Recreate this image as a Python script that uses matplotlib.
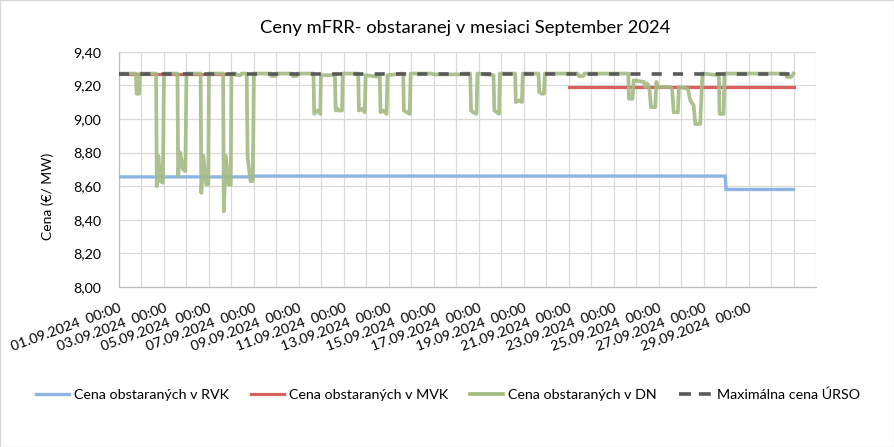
import numpy as np
import matplotlib
matplotlib.use("Agg")
import matplotlib.pyplot as plt
from matplotlib.lines import Line2D
from matplotlib.patches import Rectangle

plt.rcParams['font.family'] = ['Lato', 'DejaVu Sans']

# ---------------- data ----------------
title = "Ceny mFRR- obstaranej v mesiaci September 2024"
y_label = "Cena (€/ MW)"
series_names = ["Cena obstaraných v RVK", "Cena obstaraných v MVK",
                "Cena obstaraných v DN", "Maximálna cena ÚRSO"]
tick_days = list(range(1, 30, 2))
tick_labels = [f"{d:02d}.09.2024  00:00" for d in tick_days]

# time in days since 01.09.2024 00:00
rvk_t = [0, 5.97, 6.0, 26.96, 27.0, 30]
rvk_v = [8.655, 8.655, 8.66, 8.66, 8.58, 8.58]

mvk_t = [0, 5.1, 5.11, 19.99, 20.0, 30]
mvk_v = [9.27, 9.27, np.nan, np.nan, 9.19, 9.19]

max_t = [0, 30]
max_v = [9.27, 9.27]

dn_t = [0.00, 0.75, 0.78, 0.90, 0.93,
        1.65, 1.68, 1.75, 1.85, 1.95, 2.00,
        2.60, 2.63, 2.72, 2.85, 2.95, 3.00,
        3.63, 3.66, 3.75, 3.88, 3.97, 4.00,
        4.63, 4.66, 4.75, 4.88, 4.97, 5.00,
        5.20, 5.25, 5.40, 5.45,
        5.68, 5.72, 5.85, 5.95, 6.00,
        6.75, 6.78, 6.95, 6.98,
        7.70, 7.73, 7.90, 7.93,
        8.65, 8.68, 8.75, 8.85, 8.95, 8.98,
        9.60, 9.64, 9.72, 9.78, 9.92, 9.95,
        10.64, 10.67, 10.80, 10.93, 10.97,
        11.60, 11.63, 11.75, 11.90, 11.94,
        12.64, 12.67, 12.80, 12.93, 12.97,
        13.90, 14.00, 15.20, 15.30,
        15.62, 15.66, 15.75, 15.90, 15.94,
        16.66, 16.69, 16.80, 16.90, 16.94,
        17.62, 17.65, 17.80, 17.92, 17.96,
        18.66, 18.69, 18.80, 18.90, 18.94,
        20.40, 20.45, 20.65, 20.70,
        22.65, 22.68, 22.84, 22.89, 23.35, 23.41, 23.50, 23.60,
        23.66, 23.85, 23.90, 23.95, 24.50, 24.60,
        24.67, 24.86, 24.90, 25.30, 25.41, 25.56,
        25.63, 25.85, 25.95,
        26.68, 26.71, 26.89, 26.93,
        29.65, 29.70, 29.90, 30.00]
dn_v = [9.27, 9.27, 9.15, 9.15, 9.27,
        9.27, 8.60, 8.78, 8.63, 8.62, 9.27,
        9.27, 8.66, 8.80, 8.70, 8.69, 9.27,
        9.27, 8.56, 8.78, 8.61, 8.61, 9.27,
        9.27, 8.45, 8.78, 8.61, 8.61, 9.27,
        9.27, 9.26, 9.26, 9.27,
        9.27, 8.77, 8.63, 8.63, 9.27,
        9.27, 9.255, 9.255, 9.27,
        9.27, 9.255, 9.255, 9.27,
        9.27, 9.03, 9.04, 9.05, 9.03, 9.26,
        9.26, 9.05, 9.06, 9.05, 9.05, 9.27,
        9.27, 9.05, 9.06, 9.04, 9.26,
        9.25, 9.04, 9.05, 9.03, 9.26,
        9.27, 9.05, 9.04, 9.03, 9.27,
        9.27, 9.265, 9.265, 9.27,
        9.27, 9.05, 9.04, 9.03, 9.27,
        9.26, 9.05, 9.04, 9.03, 9.27,
        9.27, 9.10, 9.11, 9.10, 9.27,
        9.27, 9.16, 9.15, 9.15, 9.27,
        9.27, 9.255, 9.255, 9.27,
        9.27, 9.12, 9.12, 9.23, 9.22, 9.19, 9.21, 9.17,
        9.07, 9.07, 9.22, 9.19, 9.19, 9.18,
        9.04, 9.04, 9.19, 9.18, 9.11, 9.08,
        8.97, 8.97, 9.27,
        9.26, 9.03, 9.03, 9.27,
        9.27, 9.25, 9.25, 9.27]

# ---------------- figure ----------------
W, H = 894, 447
fig = plt.figure(figsize=(W / 100, H / 100), dpi=100)
fig.patches.append(Rectangle((0, 0), 1, 1, transform=fig.transFigure,
                             fill=False, edgecolor='#D9D9D9', linewidth=1.0))

L, R, T, B = 119, 816, 51.7, 287
ax = fig.add_axes([L / W, 1 - B / H, (R - L) / W, (B - T) / H])

c_rvk = '#8DB4E2'
c_mvk = '#D9605F'
c_dn = '#A3BB83'
c_max = '#595959'

ax.plot(rvk_t, rvk_v, color=c_rvk, lw=2.4, zorder=3, solid_joinstyle='miter')
ax.plot(mvk_t, mvk_v, color=c_mvk, lw=2.3, zorder=4)
ax.plot(dn_t, dn_v, color=c_dn, lw=2.7, alpha=0.9, zorder=5, solid_joinstyle='round')
ax.plot(max_t, max_v, color=c_max, lw=2.6, zorder=6, dashes=(2.8, 3.1),
        dash_capstyle='butt')

ax.set_xlim(0, 31)
ax.set_ylim(8.0, 9.4)
ax.set_xticks([d - 1 for d in tick_days])
ax.set_xticklabels(tick_labels, rotation=20, ha='right', va='top',
                   rotation_mode='anchor', fontsize=10.3)
ax.set_xticks(np.arange(0, 32, 1), minor=True)
yt = np.arange(8.0, 9.41, 0.2)
ax.set_yticks(yt)
ax.set_yticklabels([f"{v:.2f}".replace('.', ',') for v in yt], fontsize=10.3)
ax.tick_params(axis='both', which='both', length=0)
ax.tick_params(axis='x', pad=11)
ax.tick_params(axis='y', pad=13)
ax.grid(True, which='both', color='#D9D9D9', lw=0.9)
ax.set_axisbelow(True)
for s in ['top', 'right']:
    ax.spines[s].set_visible(False)
for s in ['left', 'bottom']:
    ax.spines[s].set_color('#BFBFBF')
    ax.spines[s].set_linewidth(0.9)

fig.text(465 / W, 1 - 28 / H, title, ha='center', va='center', fontsize=13.2)
fig.text(48 / W, 1 - 196 / H, y_label, rotation=90, ha='center', va='center',
         fontsize=10)

handles = [Line2D([], [], color=c_rvk, lw=2.4),
           Line2D([], [], color=c_mvk, lw=2.3),
           Line2D([], [], color=c_dn, lw=2.7),
           Line2D([], [], color=c_max, lw=2.6, dashes=(3.3, 2.2))]
fig.legend(handles, series_names, loc='center', ncol=4,
           bbox_to_anchor=(448 / W, 1 - 395 / H), frameon=False, fontsize=10.3,
           handlelength=2.3, handletextpad=0.35, columnspacing=1.55)

fig.savefig('out.png', dpi=100, facecolor='white')
